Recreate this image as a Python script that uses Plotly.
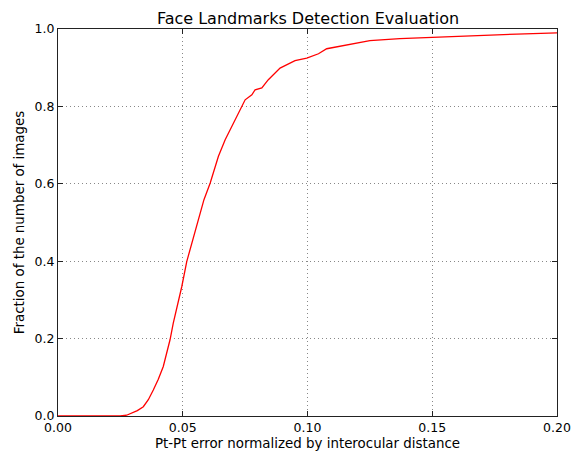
import plotly.graph_objects as go

err = [0.0, 0.020, 0.0249, 0.0275, 0.0295, 0.0318, 0.0342, 0.0362, 0.0382, 0.0402, 0.0422,
       0.0449, 0.0462, 0.0480, 0.0496, 0.0516, 0.0536, 0.0563, 0.0585, 0.0610, 0.0643,
       0.0670, 0.0695, 0.0716, 0.0750, 0.0777, 0.0790, 0.0817, 0.0843, 0.0890, 0.0950,
       0.0997, 0.1044, 0.1077, 0.1144, 0.1250, 0.1370, 0.1505, 0.1639, 0.1839, 0.2000]
frac = [0.0, 0.0, 0.0, 0.002, 0.007, 0.014, 0.024, 0.042, 0.067, 0.095, 0.128,
        0.197, 0.240, 0.290, 0.334, 0.399, 0.447, 0.507, 0.559, 0.602, 0.671,
        0.714, 0.745, 0.774, 0.817, 0.830, 0.843, 0.848, 0.869, 0.899, 0.918,
        0.925, 0.936, 0.949, 0.957, 0.970, 0.975, 0.979, 0.983, 0.987, 0.990]

x_ticks = [0.0, 0.05, 0.10, 0.15, 0.20]
x_tick_labels = ["0.00", "0.05", "0.10", "0.15", "0.20"]
y_ticks = [0.0, 0.2, 0.4, 0.6, 0.8, 1.0]
y_tick_labels = ["0.0", "0.2", "0.4", "0.6", "0.8", "1.0"]

W, H = 574, 457
L, R, T, B = 58, 557.5, 29.4, 416

fig = go.Figure()
fig.add_trace(go.Scatter(x=err, y=frac, mode="lines",
                         line=dict(color="#ff0000", width=1.3), showlegend=False))

font = "DejaVu Sans, sans-serif"
axis_common = dict(showline=True, linecolor="#222222", linewidth=1, mirror="ticks",
                   ticks="inside", ticklen=5, tickcolor="#222222", automargin=False,
                   showgrid=True, gridcolor="#888888", griddash="1px,3px", gridwidth=1,
                   zeroline=False, tickfont=dict(family=font, size=12.5, color="black"))

fig.update_layout(
    width=W, height=H,
    margin=dict(l=L, r=W - R, t=T, b=H - B),
    paper_bgcolor="white", plot_bgcolor="white",
    title=dict(text="Face Landmarks Detection Evaluation", x=308 / W, xanchor="center",
               xref="container", yref="container", y=1 - 18 / H, yanchor="middle",
               font=dict(family=font, size=16, color="black")),
    xaxis=dict(range=[0, 0.2], tickvals=x_ticks, ticktext=x_tick_labels,
               title=dict(text="Pt-Pt error normalized by interocular distance",
                          font=dict(family=font, size=13.4, color="black"), standoff=4),
               **axis_common),
    yaxis=dict(range=[0, 1.0], tickvals=y_ticks, ticktext=y_tick_labels,
               title=dict(text="Fraction of the number of images",
                          font=dict(family=font, size=13.4, color="black"), standoff=6),
               **axis_common),
)

fig.write_html("out.html", config={"displayModeBar": False},
               post_script="document.body.style.margin='0px';document.body.style.overflow='hidden';")
